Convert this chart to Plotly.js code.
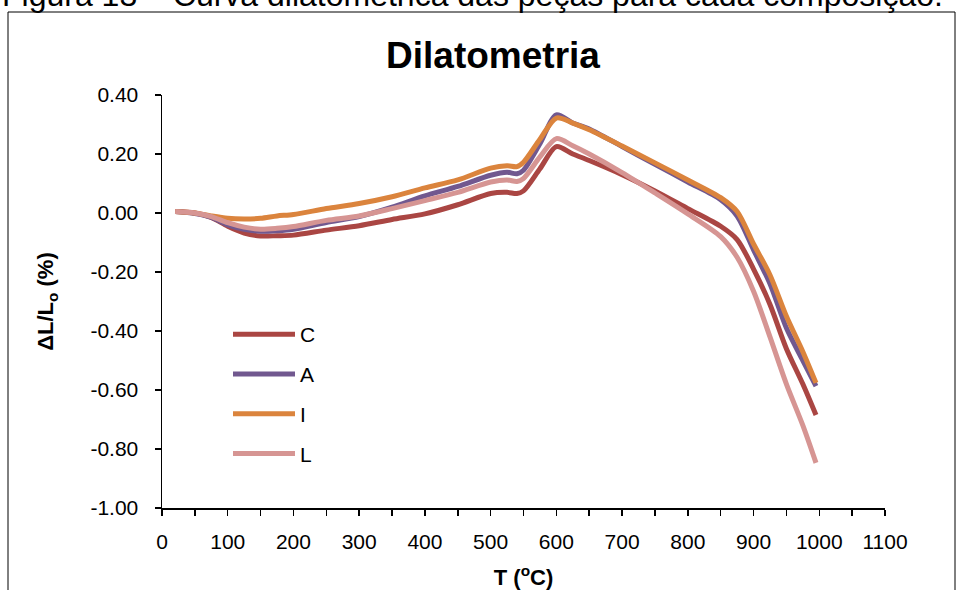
<!DOCTYPE html>
<html>
<head>
<meta charset="utf-8">
<script src="https://cdn.plot.ly/plotly-3.0.1.min.js"></script>
<style>
  html, body { margin: 0; padding: 0; background: #ffffff; }
  #chart { width: 966px; height: 590px; }
</style>
</head>
<body>
<div id="chart"></div>
<script>
// Temperature (°C) at which each dilatometric reading is taken
const temperature = [20, 50, 75, 100, 125, 150, 175, 200, 250, 300, 350, 400, 450, 500, 525, 540, 550, 575, 600, 625, 650, 700, 750, 800, 850, 875, 900, 925, 950, 975, 995];

// ΔL/Lo (%) for each composition
const seriesC = [0.005, 0.000, -0.015, -0.045, -0.068, -0.078, -0.077, -0.075, -0.058, -0.043, -0.022, -0.003, 0.028, 0.066, 0.070, 0.066, 0.075, 0.150, 0.225, 0.200, 0.178, 0.130, 0.075, 0.015, -0.045, -0.090, -0.190, -0.310, -0.460, -0.580, -0.685];
const seriesA = [0.005, -0.002, -0.015, -0.040, -0.055, -0.062, -0.060, -0.055, -0.032, -0.012, 0.020, 0.058, 0.090, 0.128, 0.138, 0.133, 0.145, 0.235, 0.333, 0.305, 0.285, 0.225, 0.165, 0.105, 0.045, -0.010, -0.125, -0.240, -0.390, -0.500, -0.587];
const seriesI = [0.005, 0.000, -0.010, -0.018, -0.020, -0.018, -0.010, -0.005, 0.015, 0.032, 0.055, 0.085, 0.112, 0.152, 0.160, 0.157, 0.172, 0.250, 0.322, 0.305, 0.282, 0.227, 0.170, 0.112, 0.052, 0.005, -0.105, -0.210, -0.350, -0.470, -0.576];
const seriesL = [0.005, 0.000, -0.012, -0.033, -0.048, -0.055, -0.052, -0.046, -0.025, -0.010, 0.015, 0.042, 0.070, 0.105, 0.112, 0.107, 0.117, 0.190, 0.252, 0.228, 0.200, 0.137, 0.068, -0.003, -0.080, -0.150, -0.265, -0.420, -0.580, -0.720, -0.847];

const seriesNames = ['C', 'A', 'I', 'L'];
const seriesColors = ['#AA4643', '#71588F', '#DB843D', '#D69593'];

// Axis tick labels
const xTickVals = [0, 100, 200, 300, 400, 500, 600, 700, 800, 900, 1000, 1100];
const yTickVals = [-1.0, -0.8, -0.6, -0.4, -0.2, 0.0, 0.2, 0.4];
const yTickText = ['-1.00', '-0.80', '-0.60', '-0.40', '-0.20', '0.00', '0.20', '0.40'];

const W = 966, H = 590;
const M = { l: 162, r: 81, t: 95, b: 82 };
const plotW = W - M.l - M.r;
const plotH = H - M.t - M.b;
// pixel -> paper coordinate helpers for frame, title and caption placement
const px = x => (x - M.l) / plotW;
const py = y => 1 - (y - M.t) / plotH;

const FONT = 'Liberation Sans, Arial, Helvetica, sans-serif';

const allSeries = [seriesC, seriesA, seriesI, seriesL];
const traces = allSeries.map((vals, i) => ({
  type: 'scatter',
  mode: 'lines',
  x: temperature,
  y: vals,
  name: seriesNames[i],
  legendgroup: seriesNames[i],
  line: { color: seriesColors[i], width: 5, shape: 'spline', smoothing: 0.8 },
  hoverinfo: 'x+y+name'
}));

const layout = {
  width: W,
  height: H,
  margin: M,
  paper_bgcolor: '#ffffff',
  plot_bgcolor: '#ffffff',
  font: { family: FONT, color: '#000000', size: 21 },
  title: {
    text: '<b>Dilatometria</b>',
    font: { family: FONT, size: 37, color: '#000000' },
    x: px(493),
    xref: 'paper',
    xanchor: 'center',
    y: 1 - 55 / H,
    yanchor: 'middle'
  },
  xaxis: {
    range: [0, 1100],
    tickvals: xTickVals,
    ticks: 'outside',
    ticklen: 6,
    tickwidth: 1.5,
    tickcolor: '#000000',
    ticklabelstandoff: 8,
    minor: { dtick: 50, ticks: 'outside', ticklen: 6, tickwidth: 1.5, tickcolor: '#000000', showgrid: false },
    showline: true,
    linecolor: '#000000',
    linewidth: 1.5,
    showgrid: false,
    zeroline: false,
    tickfont: { family: FONT, size: 21, color: '#000000' },
    title: {
      text: '<b>T (<sup>o</sup>C)</b>',
      font: { family: FONT, size: 22, color: '#000000' },
      standoff: 18
    },
    fixedrange: true
  },
  yaxis: {
    range: [-1.0, 0.4],
    tickvals: yTickVals,
    ticktext: yTickText,
    ticks: 'outside',
    ticklen: 6,
    tickwidth: 1.5,
    tickcolor: '#000000',
    ticklabelstandoff: 12,
    showline: true,
    linecolor: '#000000',
    linewidth: 1.5,
    showgrid: false,
    zeroline: false,
    tickfont: { family: FONT, size: 21, color: '#000000' },
    title: {
      text: '<b>ΔL/L<sub>o</sub> (%)</b>',
      font: { family: FONT, size: 22, color: '#000000' },
      standoff: 30
    },
    fixedrange: true
  },
  showlegend: true,
  legend: {
    x: px(228),
    y: py(314),
    xanchor: 'left',
    yanchor: 'top',
    bgcolor: 'rgba(0,0,0,0)',
    borderwidth: 0,
    traceorder: 'grouped',
    tracegroupgap: 9.5,
    itemwidth: 62,
    font: { family: FONT, size: 21, color: '#000000' }
  },
  shapes: [{
    type: 'rect',
    xref: 'paper', yref: 'paper',
    x0: px(8), x1: px(955),
    y0: py(620), y1: py(12),
    line: { color: '#000000', width: 1 },
    fillcolor: 'rgba(0,0,0,0)',
    layer: 'below'
  }],
  annotations: [{
    text: 'Figura 13 – Curva dilatométrica das peças para cada composição.',
    xref: 'paper', yref: 'paper',
    x: px(0), y: py(-5),
    xanchor: 'left', yanchor: 'middle',
    showarrow: false,
    font: { family: FONT, size: 32, color: '#000000' }
  }]
};

Plotly.newPlot('chart', traces, layout, { displayModeBar: false, staticPlot: true });
</script>
</body>
</html>
